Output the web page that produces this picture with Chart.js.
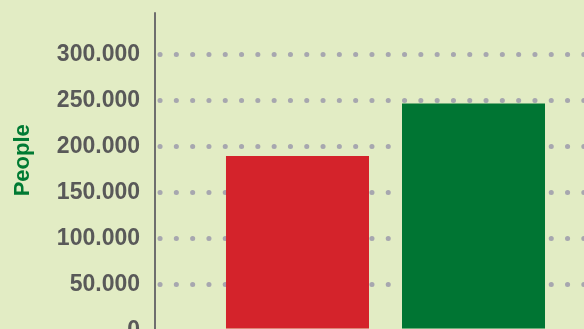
<!DOCTYPE html>
<html>
<head>
<meta charset="utf-8">
<script src="https://cdn.jsdelivr.net/npm/chart.js@4/dist/chart.umd.min.js"></script>
<style>
html, body { margin: 0; padding: 0; background: #E2ECC4; overflow: hidden; }
</style>
</head>
<body>
<canvas id="myChart" width="640" height="343"></canvas>
<script>
const categories = ["Total"];
const seriesNames = ["Series 1", "Series 2"];
const firstSeries = [190000];
const secondSeries = [247000];
const yTicks = [0, 50000, 100000, 150000, 200000, 250000, 300000];
const yTitle = "\u00a0\u00a0\u00a0\u00a0People";

// dots instead of dashes on the grid
const roundCaps = {
    id: 'roundCaps',
    beforeDraw(chart) {
        chart.ctx.lineCap = 'round';
    }
};

const fmt = v => String(v).replace(/\B(?=(\d{3})+(?!\d))/g, '.');

const ctx = document.getElementById('myChart');
const myChart = new Chart(ctx, {
    type: 'bar',
    data: {
        labels: categories,
        datasets: [{
            label: seriesNames[0],
            data: firstSeries,
            backgroundColor: '#D4232B',
        }, {
            label: seriesNames[1],
            data: secondSeries,
            backgroundColor: '#007533',
        }]
    },
    options: {
        responsive: false,
        animation: false,
        categoryPercentage: 0.7636,
        barPercentage: 0.8125,
        layout: {
            padding: { left: 0, right: 24, top: 14, bottom: 12 }
        },
        plugins: {
            legend: { display: false },
            tooltip: { enabled: false }
        },
        scales: {
            x: {
                grid: { display: false, drawTicks: false },
                ticks: { display: false },
                border: { color: '#808080', width: 2 }
            },
            y: {
                min: 0,
                max: 344000,
                afterBuildTicks: scale => {
                    scale.ticks = yTicks.map(v => ({ value: v }));
                },
                afterFit: scale => {
                    scale.width = 155;
                    scale.paddingTop = 0;
                    scale.paddingBottom = 0;
                },
                title: {
                    display: true,
                    text: yTitle,
                    color: '#007A33',
                    font: { family: 'Liberation Sans', size: 22, weight: 'bold' },
                    padding: { top: 10, bottom: 0 }
                },
                ticks: {
                    color: '#595959',
                    padding: 15,
                    font: { family: 'Liberation Sans', size: 23, weight: 'bold' },
                    callback: v => fmt(v)
                },
                grid: {
                    color: '#A7A7AF',
                    lineWidth: 5,
                    drawTicks: false
                },
                border: {
                    color: '#6E6E6E',
                    width: 2,
                    dash: [0.1, 16.2],
                    dashOffset: -4
                }
            }
        }
    },
    plugins: [roundCaps]
});
</script>
</body>
</html>
